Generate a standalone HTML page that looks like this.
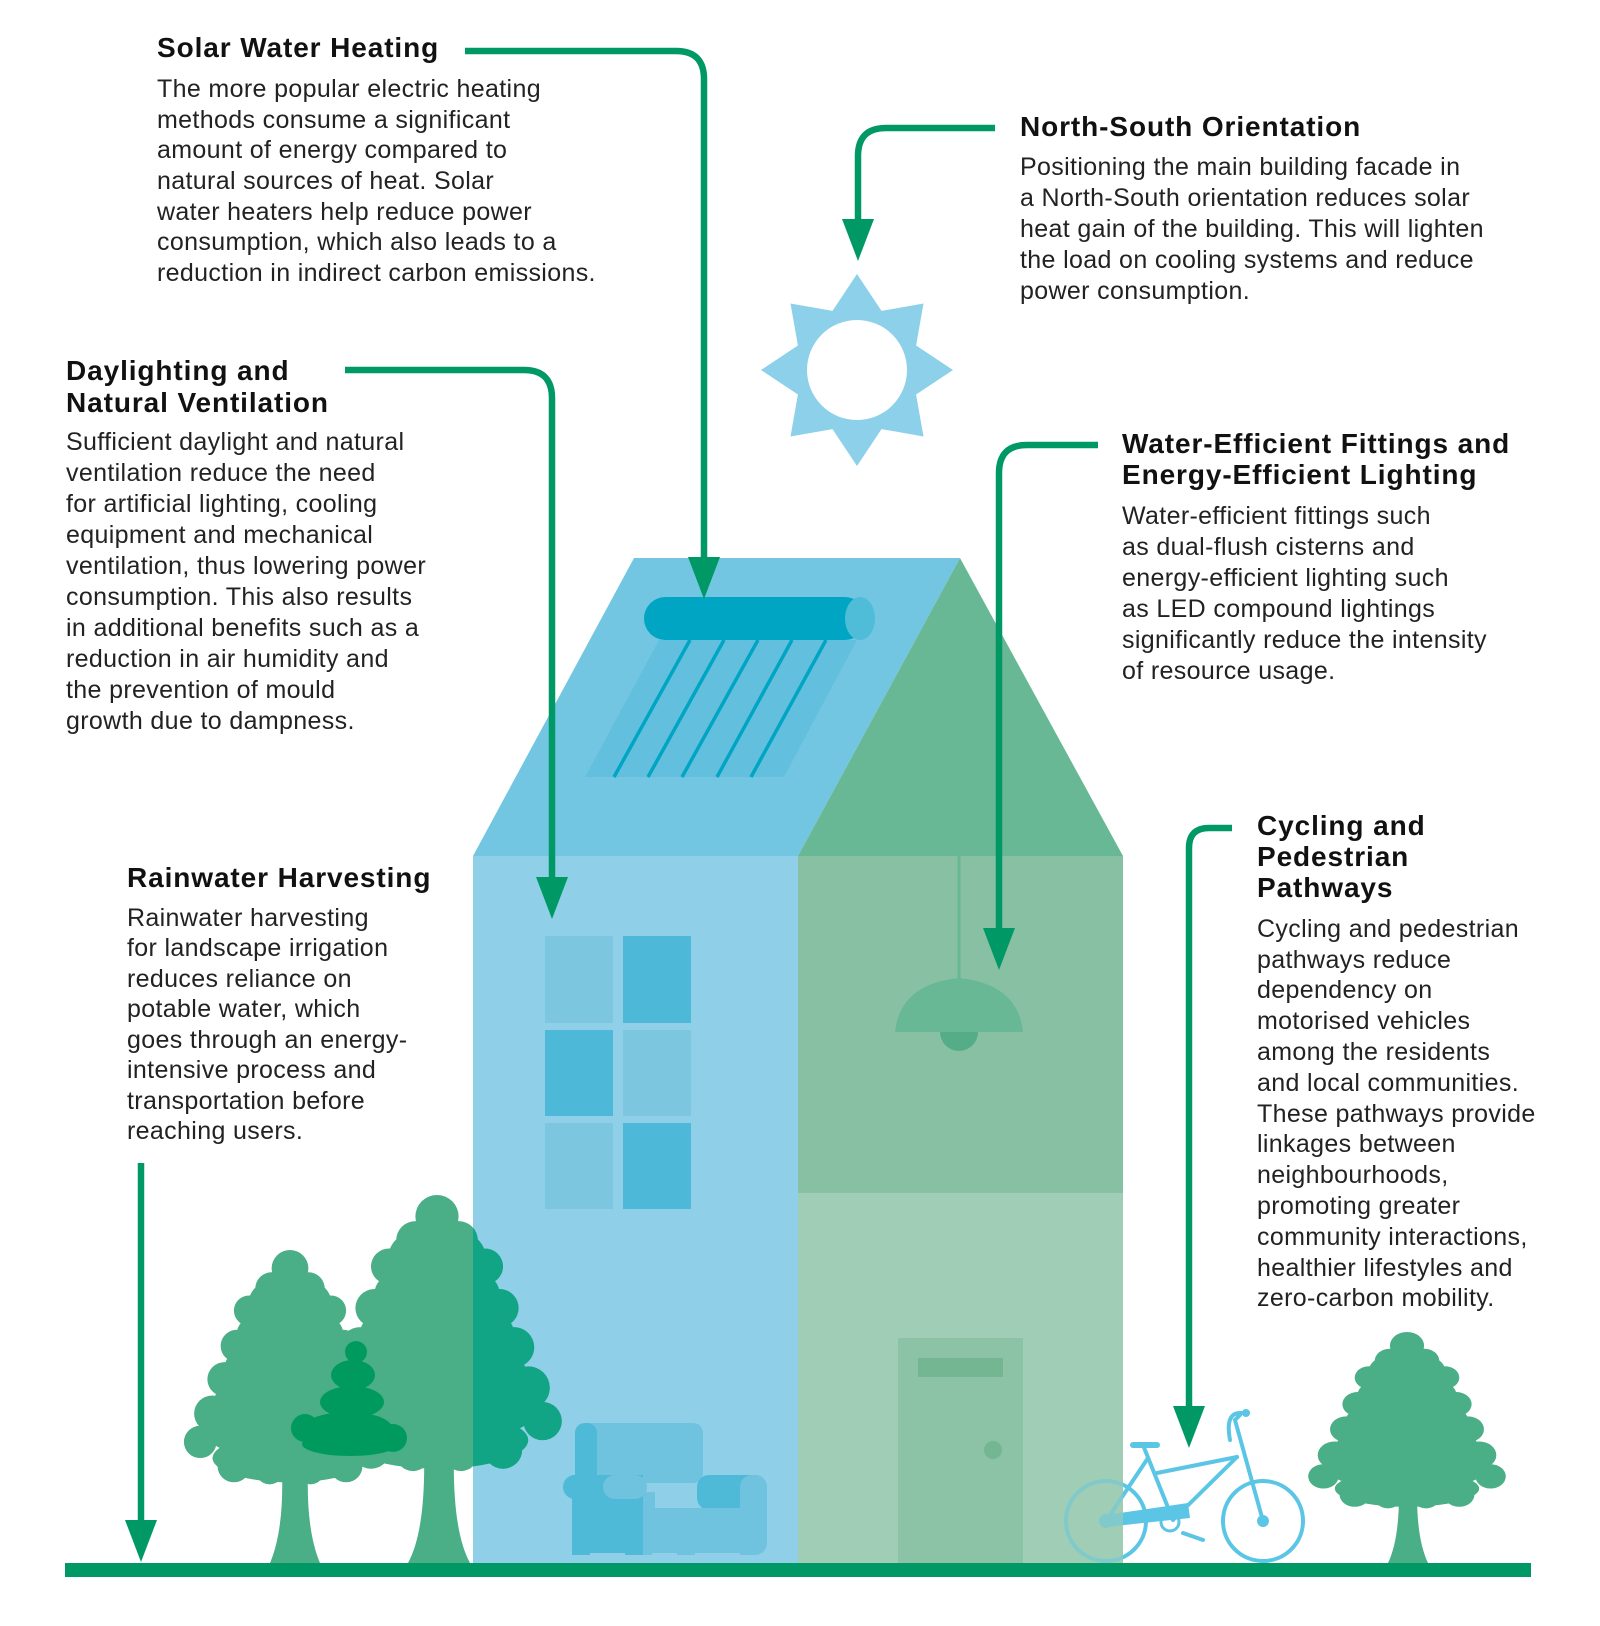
<!DOCTYPE html>
<html><head><meta charset="utf-8"><style>
html,body{margin:0;padding:0;background:#fff;}
svg{display:block;}
.t{font-family:"Liberation Sans",sans-serif;font-weight:bold;font-size:28px;letter-spacing:0.9px;fill:#111;}
.b{font-family:"Liberation Sans",sans-serif;font-size:25px;letter-spacing:0.35px;fill:#222;}
</style></head><body>
<svg width="1600" height="1626" viewBox="0 0 1600 1626" xmlns="http://www.w3.org/2000/svg">
<defs>
<g id="tree">
<circle cx="0" cy="18" r="18"/>
<circle cx="-18" cy="38" r="16"/><circle cx="18" cy="38" r="16"/>
<ellipse cx="0" cy="50" rx="40" ry="24"/>
<circle cx="-40" cy="60" r="15"/><circle cx="40" cy="60" r="15"/>
<ellipse cx="0" cy="82" rx="52" ry="26"/>
<circle cx="-52" cy="95" r="16"/><circle cx="52" cy="95" r="16"/>
<ellipse cx="0" cy="115" rx="64" ry="27"/>
<circle cx="-64" cy="128" r="17"/><circle cx="64" cy="128" r="17"/>
<ellipse cx="0" cy="148" rx="74" ry="28"/>
<circle cx="-76" cy="162" r="18"/><circle cx="76" cy="162" r="18"/>
<ellipse cx="0" cy="180" rx="84" ry="28"/>
<circle cx="-88" cy="190" r="16"/><circle cx="88" cy="190" r="16"/>
<ellipse cx="0" cy="206" rx="76" ry="24"/>
<circle cx="-55" cy="214" r="16"/><circle cx="55" cy="214" r="16"/>
<circle cx="-20" cy="218" r="14"/><circle cx="20" cy="218" r="14"/>
</g>
<clipPath id="rclip"><rect x="473" y="0" width="400" height="1626"/></clipPath>
</defs>

<polygon fill="#8dd0ea" points="857,274 881.5,310.9 923.5,303.5 916.1,345.5 953,370 916.1,394.5 923.5,436.5 881.5,429.1 857,466 832.5,429.1 790.5,436.5 797.9,394.5 761,370 797.9,345.5 790.5,303.5 832.5,310.9"/>
<circle cx="857" cy="370" r="50" fill="#fff"/>

<polygon fill="#72c6e2" points="473,856 634,558 960,558 798,856"/>
<polygon fill="#69b895" points="960,558 798,856 1123,856"/>
<rect x="473" y="856" width="325" height="707" fill="#8fd0e8"/>
<rect x="798" y="856" width="325" height="337" fill="#88c0a4"/>
<rect x="798" y="1193" width="325" height="370" fill="#a0cdb5"/>

<polygon fill="#62c0de" points="659,640 857,640 784,777 585,777"/>
<g stroke="#00a5c4" stroke-width="3.5">
<line x1="614" y1="777" x2="690" y2="640"/><line x1="648" y1="777" x2="724" y2="640"/>
<line x1="682" y1="777" x2="758" y2="640"/><line x1="717" y1="777" x2="792" y2="640"/>
<line x1="751" y1="777" x2="826" y2="640"/>
</g>
<rect x="644" y="597" width="222" height="43" rx="21.5" fill="#00a5c4"/>
<ellipse cx="860" cy="618.5" rx="15" ry="21.5" fill="#4fbcd8"/>

<rect x="545" y="936" width="68" height="87" fill="#7cc6e0"/>
<rect x="623" y="936" width="68" height="87" fill="#4db8d8"/>
<rect x="545" y="1030" width="68" height="86" fill="#4db8d8"/>
<rect x="623" y="1030" width="68" height="86" fill="#7cc6e0"/>
<rect x="545" y="1123" width="68" height="86" fill="#7cc6e0"/>
<rect x="623" y="1123" width="68" height="86" fill="#4db8d8"/>

<line x1="959" y1="856" x2="959" y2="980" stroke="#69b895" stroke-width="3"/>
<circle cx="959" cy="1032" r="19" fill="#55ad88"/>
<path d="M895,1032 Q900,984 959,978 Q1018,984 1023,1032 Z" fill="#69b895"/>

<rect x="898" y="1338" width="125" height="225" fill="#8cc3a7"/>
<rect x="918" y="1358" width="85" height="19" fill="#74b592"/>
<circle cx="993" cy="1450" r="9" fill="#74b592"/>

<rect x="575" y="1423" width="128" height="60" rx="10" fill="#6fc3df"/>
<rect x="575" y="1423" width="22" height="60" rx="10" fill="#4fb9d8"/>
<rect x="572" y="1475" width="71" height="80" fill="#4fb9d8"/>
<rect x="563" y="1475" width="40" height="24" rx="12" fill="#4fb9d8"/>
<rect x="603" y="1475" width="44" height="24" rx="12" fill="#6fc3df"/>
<rect x="697" y="1475" width="70" height="35" rx="12" fill="#4fb9d8"/>
<rect x="740" y="1475" width="27" height="80" rx="12" fill="#6fc3df"/>
<rect x="643" y="1508" width="110" height="47" fill="#6fc3df"/>
<rect x="643" y="1492" width="12" height="20" fill="#6fc3df"/>
<rect x="590" y="1553" width="35" height="10" fill="#8fd0e8"/>
<rect x="652" y="1553" width="25" height="10" fill="#8fd0e8"/>
<rect x="695" y="1553" width="45" height="10" fill="#8fd0e8"/>

<g fill="#4aae87">
<use href="#tree" transform="translate(290,1250) scale(1.02,1.01)"/>
<path d="M282,1470 L308,1470 Q306,1530 320,1563 L270,1563 Q284,1530 282,1470 Z"/>
<use href="#tree" transform="translate(437,1195) scale(1.2,1.19)"/>
<path d="M424,1450 L454,1450 Q452,1530 470,1563 L408,1563 Q426,1530 424,1450 Z"/>
</g>
<g fill="#12a585" clip-path="url(#rclip)">
<use href="#tree" transform="translate(437,1195) scale(1.2,1.19)"/>
</g>
<g fill="#009a5f">
<circle cx="356" cy="1352" r="11"/>
<ellipse cx="353" cy="1375" rx="22" ry="15"/>
<ellipse cx="352" cy="1402" rx="32" ry="16"/>
<ellipse cx="348" cy="1428" rx="44" ry="16"/>
<ellipse cx="350" cy="1444" rx="48" ry="12"/>
<circle cx="305" cy="1428" r="14"/><circle cx="393" cy="1438" r="14"/>
</g>
<g fill="#4aae87">
<use href="#tree" transform="translate(1407,1332) scale(0.95,0.76)"/>
<path d="M1399,1495 L1417,1495 Q1417,1540 1428,1563 L1388,1563 Q1399,1540 1399,1495 Z"/>
</g>

<g stroke="#5bc5e6" stroke-width="4" fill="none" stroke-linecap="round">
<circle cx="1106" cy="1521" r="40"/>
<circle cx="1263" cy="1521" r="40"/>
<line x1="1143" y1="1445" x2="1173" y2="1520"/>
<line x1="1157" y1="1473" x2="1237" y2="1457"/>
<line x1="1237" y1="1457" x2="1173" y2="1520"/>
<line x1="1106" y1="1521" x2="1148" y2="1458"/>
<line x1="1235" y1="1420" x2="1263" y2="1521"/>
<line x1="1235" y1="1420" x2="1240" y2="1415"/>
<path d="M1230,1440 Q1225,1413 1240,1413 L1247,1413"/>
<line x1="1183" y1="1533" x2="1203" y2="1540"/>
</g>
<line x1="1133" y1="1445" x2="1157" y2="1445" stroke="#5bc5e6" stroke-width="6" stroke-linecap="round"/>
<polygon points="1106,1515 1188,1503 1190,1518 1106,1527" fill="#5bc5e6"/>
<circle cx="1106" cy="1521" r="7" fill="#5bc5e6"/>
<circle cx="1263" cy="1521" r="6" fill="#5bc5e6"/>
<circle cx="1170" cy="1522" r="9" fill="none" stroke="#5bc5e6" stroke-width="3"/>
<circle cx="1246" cy="1413" r="4" fill="#5bc5e6"/>
<rect x="1063" y="1470" width="60" height="93" fill="#a0cdb5" opacity="0.55"/>

<rect x="65" y="1563" width="1466" height="14" fill="#009966"/>

<g stroke="#009966" stroke-width="6.5" fill="none">
<path d="M465,51 H676 Q704,51 704,79 V565"/>
<path d="M995,128 H886 Q858,128 858,156 V225"/>
<path d="M345,370 H524 Q552,370 552,398 V885"/>
<path d="M1098,445 H1027 Q999,445 999,473 V935"/>
<path d="M1232,828 H1209 Q1189,828 1189,848 V1412"/>
<path d="M141,1163 V1525"/>
</g>
<g fill="#009966">
<polygon points="688,557 720,557 704,599"/>
<polygon points="842,219 874,219 858,261"/>
<polygon points="536,877 568,877 552,919"/>
<polygon points="983,928 1015,928 999,970"/>
<polygon points="1173,1406 1205,1406 1189,1448"/>
<polygon points="125,1520 157,1520 141,1562"/>
</g>

<text class="t" x="157" y="57">Solar Water Heating</text>
<g class="b">
<text x="157" y="97">The more popular electric heating</text>
<text x="157" y="128">methods consume a significant</text>
<text x="157" y="158">amount of energy compared to</text>
<text x="157" y="189">natural sources of heat. Solar</text>
<text x="157" y="220">water heaters help reduce power</text>
<text x="157" y="250">consumption, which also leads to a</text>
<text x="157" y="281">reduction in indirect carbon emissions.</text>
</g>

<text class="t" x="66" y="380">Daylighting and</text>
<text class="t" x="66" y="412">Natural Ventilation</text>
<g class="b">
<text x="66" y="450">Sufficient daylight and natural</text>
<text x="66" y="481">ventilation reduce the need</text>
<text x="66" y="512">for artificial lighting, cooling</text>
<text x="66" y="543">equipment and mechanical</text>
<text x="66" y="574">ventilation, thus lowering power</text>
<text x="66" y="605">consumption. This also results</text>
<text x="66" y="636">in additional benefits such as a</text>
<text x="66" y="667">reduction in air humidity and</text>
<text x="66" y="698">the prevention of mould</text>
<text x="66" y="729">growth due to dampness.</text>
</g>

<text class="t" x="127" y="887">Rainwater Harvesting</text>
<g class="b">
<text x="127" y="926">Rainwater harvesting</text>
<text x="127" y="956">for landscape irrigation</text>
<text x="127" y="987">reduces reliance on</text>
<text x="127" y="1017">potable water, which</text>
<text x="127" y="1048">goes through an energy-</text>
<text x="127" y="1078">intensive process and</text>
<text x="127" y="1109">transportation before</text>
<text x="127" y="1139">reaching users.</text>
</g>

<text class="t" x="1020" y="136">North-South Orientation</text>
<g class="b">
<text x="1020" y="175">Positioning the main building facade in</text>
<text x="1020" y="206">a North-South orientation reduces solar</text>
<text x="1020" y="237">heat gain of the building. This will lighten</text>
<text x="1020" y="268">the load on cooling systems and reduce</text>
<text x="1020" y="299">power consumption.</text>
</g>

<text class="t" x="1122" y="453">Water-Efficient Fittings and</text>
<text class="t" x="1122" y="484">Energy-Efficient Lighting</text>
<g class="b">
<text x="1122" y="524">Water-efficient fittings such</text>
<text x="1122" y="555">as dual-flush cisterns and</text>
<text x="1122" y="586">energy-efficient lighting such</text>
<text x="1122" y="617">as LED compound lightings</text>
<text x="1122" y="648">significantly reduce the intensity</text>
<text x="1122" y="679">of resource usage.</text>
</g>

<text class="t" x="1257" y="835">Cycling and</text>
<text class="t" x="1257" y="866">Pedestrian</text>
<text class="t" x="1257" y="897">Pathways</text>
<g class="b">
<text x="1257" y="937">Cycling and pedestrian</text>
<text x="1257" y="968">pathways reduce</text>
<text x="1257" y="998">dependency on</text>
<text x="1257" y="1029">motorised vehicles</text>
<text x="1257" y="1060">among the residents</text>
<text x="1257" y="1091">and local communities.</text>
<text x="1257" y="1122">These pathways provide</text>
<text x="1257" y="1152">linkages between</text>
<text x="1257" y="1183">neighbourhoods,</text>
<text x="1257" y="1214">promoting greater</text>
<text x="1257" y="1245">community interactions,</text>
<text x="1257" y="1276">healthier lifestyles and</text>
<text x="1257" y="1306">zero-carbon mobility.</text>
</g>
</svg>
</body></html>
